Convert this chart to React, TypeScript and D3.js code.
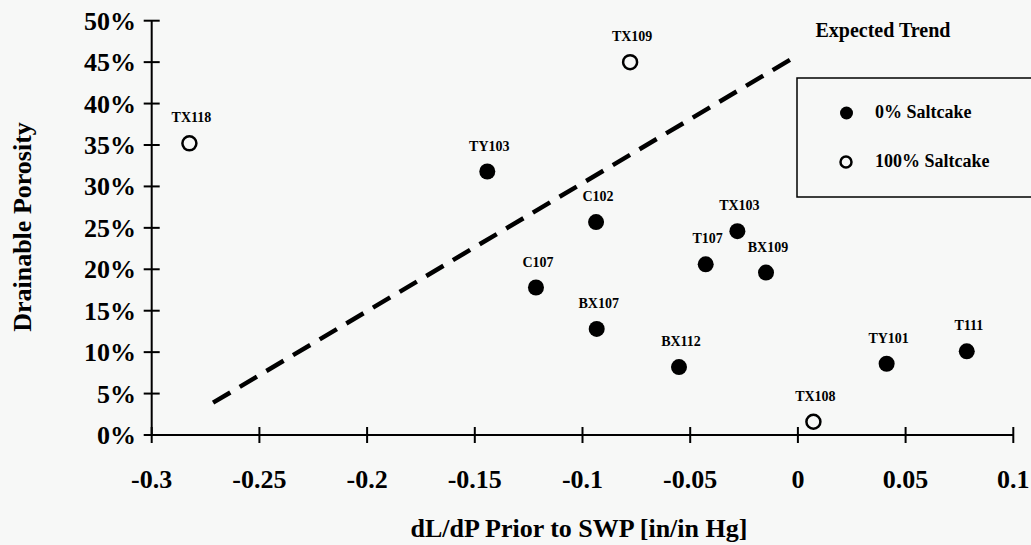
import React from "react";
import * as d3 from "d3";

const names = ["TX118", "TX109", "TY103", "C102", "C107", "BX107", "BX112", "T107", "TX103", "BX109", "TY101", "T111", "TX108"];
const slope = [-0.2825, -0.0779, -0.1442, -0.0937, -0.1216, -0.0934, -0.0552, -0.0428, -0.0281, -0.0148, 0.0412, 0.0784, 0.0072];
const porosity = [0.352, 0.45, 0.318, 0.257, 0.178, 0.128, 0.082, 0.206, 0.246, 0.196, 0.086, 0.101, 0.016];
const saltcake = [100, 100, 0, 0, 0, 0, 0, 0, 0, 0, 0, 0, 100];

const xTicks = [-0.3, -0.25, -0.2, -0.15, -0.1, -0.05, 0, 0.05, 0.1];
const xTickLabels = ["-0.3", "-0.25", "-0.2", "-0.15", "-0.1", "-0.05", "0", "0.05", "0.1"];
const yTicks = [0, 0.05, 0.1, 0.15, 0.2, 0.25, 0.3, 0.35, 0.4, 0.45, 0.5];
const yTickLabels = ["0%", "5%", "10%", "15%", "20%", "25%", "30%", "35%", "40%", "45%", "50%"];

const trendX = [-0.2715, -0.0029];
const trendY = [0.039, 0.454];

const legendLabels = ["0% Saltcake", "100% Saltcake"];

const FONT = "Liberation Serif, Times New Roman, serif";

export default function App() {
  const x = d3.scaleLinear().domain([-0.3, 0.1]).range([151.7, 1013.3]);
  const y = d3.scaleLinear().domain([0, 0.5]).range([435, 20.7]);
  const line = d3.line<number>().x((d, i) => x(trendX[i])).y((d, i) => y(trendY[i]));
  const ts = { fontFamily: FONT, fontWeight: 700 } as React.CSSProperties;

  return (
    <svg width={1031} height={545} style={{ position: "absolute", left: 0, top: 0, background: "#f7f8f7" }}>
      <rect x={0} y={0} width={1031} height={545} fill="#f7f8f7" />
      <line x1={x(-0.3)} x2={x(-0.3)} y1={y(0)} y2={y(0.5)} stroke="#000" strokeWidth={2} />
      <line x1={x(-0.3)} x2={x(0.1)} y1={y(0)} y2={y(0)} stroke="#000" strokeWidth={2} />
      {yTicks.map((t, i) => (
        <g key={"yt" + i}>
          <line x1={x(-0.3) - 8} x2={x(-0.3) + 8} y1={y(t)} y2={y(t)} stroke="#000" strokeWidth={2} />
          <text x={136} y={y(t) + 9} textAnchor="end" style={{ ...ts, fontSize: 26 }}>{yTickLabels[i]}</text>
        </g>
      ))}
      {xTicks.map((t, i) => (
        <g key={"xt" + i}>
          <line x1={x(t)} x2={x(t)} y1={y(0) - 8} y2={y(0) + 8} stroke="#000" strokeWidth={2} />
          <text x={x(t)} y={488} textAnchor="middle" style={{ ...ts, fontSize: 26 }}>{xTickLabels[i]}</text>
        </g>
      ))}
      <text x={579} y={537} textAnchor="middle" style={{ ...ts, fontSize: 26 }}>dL/dP Prior to SWP [in/in Hg]</text>
      <text transform="translate(31,227) rotate(-90)" textAnchor="middle" style={{ ...ts, fontSize: 26 }}>Drainable Porosity</text>

      <path d={line(trendX) || ""} fill="none" stroke="#000" strokeWidth={4.5} strokeDasharray="20 11" />
      <text x={883} y={37} textAnchor="middle" style={{ ...ts, fontSize: 20 }}>Expected Trend</text>

      {names.map((n, i) => (
        <g key={n}>
          {saltcake[i] === 0 ? (
            <circle cx={x(slope[i])} cy={y(porosity[i])} r={8} fill="#000" />
          ) : (
            <circle cx={x(slope[i])} cy={y(porosity[i])} r={7} fill="none" stroke="#000" strokeWidth={2.5} />
          )}
          <text x={x(slope[i]) + 2} y={y(porosity[i]) - 21} textAnchor="middle" style={{ ...ts, fontSize: 14 }}>{n}</text>
        </g>
      ))}

      <rect x={797} y={78} width={240} height={119} fill="none" stroke="#000" strokeWidth={1.5} />
      <circle cx={846.5} cy={113} r={6.5} fill="#000" />
      <text x={875} y={118} style={{ ...ts, fontSize: 18 }}>{legendLabels[0]}</text>
      <circle cx={846} cy={162} r={5.5} fill="none" stroke="#000" strokeWidth={2.5} />
      <text x={875} y={167} style={{ ...ts, fontSize: 18 }}>{legendLabels[1]}</text>
    </svg>
  );
}
